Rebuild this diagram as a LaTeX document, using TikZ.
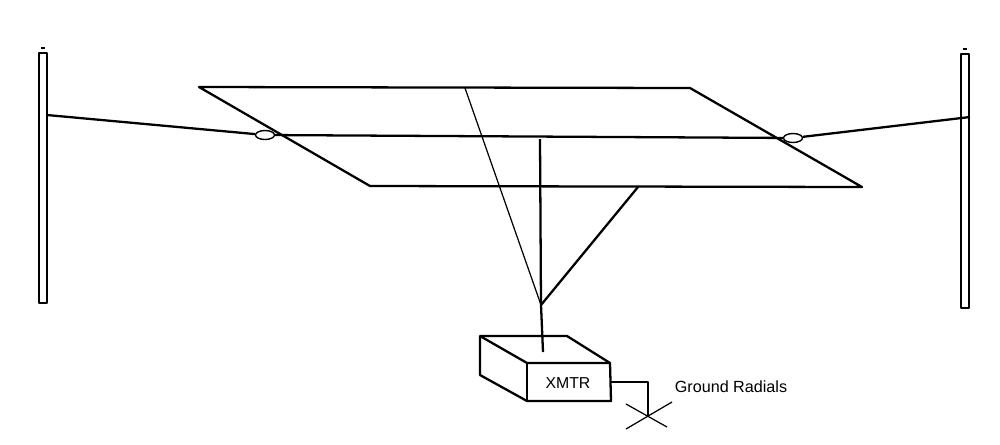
\documentclass[tikz,border=0pt]{standalone}
\usepackage{fontspec}
\setmainfont{Liberation Sans}
\usetikzlibrary{shapes.geometric}
\tikzset{>=stealth}
\tikzset{wire/.style={line width=1.3pt}, thinwire/.style={line width=.7pt}, mast/.style={line width=1.6pt},
	insul/.style={draw, ellipse, fill=white, line width=.8pt, inner sep=0pt, minimum width=.38cm, minimum height=.18cm}}

\begin{document}
\begin{tikzpicture}[x=.02cm, y=-.02cm, line join=round]
	\useasboundingbox (0,0) rectangle (1000,444);
	% masts
	\coordinate (L1) at (39,53); \coordinate (L2) at (47,53);
	\coordinate (L3) at (39,303); \coordinate (L4) at (47,303);
	\coordinate (LC1) at (41,48); \coordinate (LC2) at (45,48);
	\coordinate (R1) at (961,54); \coordinate (R2) at (969,54);
	\coordinate (R3) at (961,308); \coordinate (R4) at (969,308);
	\coordinate (RC1) at (963,49); \coordinate (RC2) at (967,49);
	\draw [mast](L1)--(L3)--(L4)--(L2)--cycle;
	\draw [mast](R1)--(R3)--(R4)--(R2)--cycle;
	\draw [thinwire](LC1)--(LC2); \draw [thinwire](RC1)--(RC2);
	% sheet
	\coordinate (S1) at (199,87); \coordinate (S2) at (690,88);
	\coordinate (S3) at (862,187); \coordinate (S4) at (370,186);
	\draw [wire](S1)--(S2)--(S3)--(S4)--cycle;
	% horizontal wire and insulators
	\coordinate (LT) at (47,115); \coordinate (RT) at (970,117);
	\node [insul] (IL) at (265,135) {};
	\node [insul] (IR) at (793,138) {};
	\draw [wire](LT)--(IL); \draw [wire](IR)--(RT);
	\draw [wire](IL)--(IR);
	% feed lines
	\coordinate (F) at (541,305);
	\coordinate (FA) at (465,88); \coordinate (FB) at (540,139); \coordinate (FC) at (638,187);
	\coordinate (FD) at (543,352);
	\draw [thinwire](FA)--(F);
	\draw [wire](FB)--(F); \draw [wire](FC)--(F);
	\draw [wire](F)--(FD);
	% XMTR box
	\coordinate (B1) at (480,336); \coordinate (B2) at (567,336);
	\coordinate (B3) at (610,363); \coordinate (B4) at (527,363);
	\coordinate (B5) at (480,375); \coordinate (B6) at (527,401); \coordinate (B7) at (611,401);
	\draw [wire](B1)--(B2)--(B3)--(B7)--(B6)--(B5)--cycle;
	\draw [wire](B1)--(B4)--(B3); \draw [wire](B4)--(B6);
	\node [font=\small] (XMTR) at (568,383) {XMTR};
	% ground
	\coordinate (G1) at (611,382); \coordinate (G2) at (648,382); \coordinate (G3) at (648,416);
	\coordinate (X1) at (626,404); \coordinate (X2) at (667,427);
	\coordinate (X3) at (672,402); \coordinate (X4) at (626,429);
	\draw [wire](G1)--(G2)--(G3);
	\draw [thinwire](X1)--(X2); \draw [thinwire](X3)--(X4);
	\node (GR) at (731,387) {\fontsize{9.2}{10}\selectfont Ground Radials};
\end{tikzpicture}
\end{document}
